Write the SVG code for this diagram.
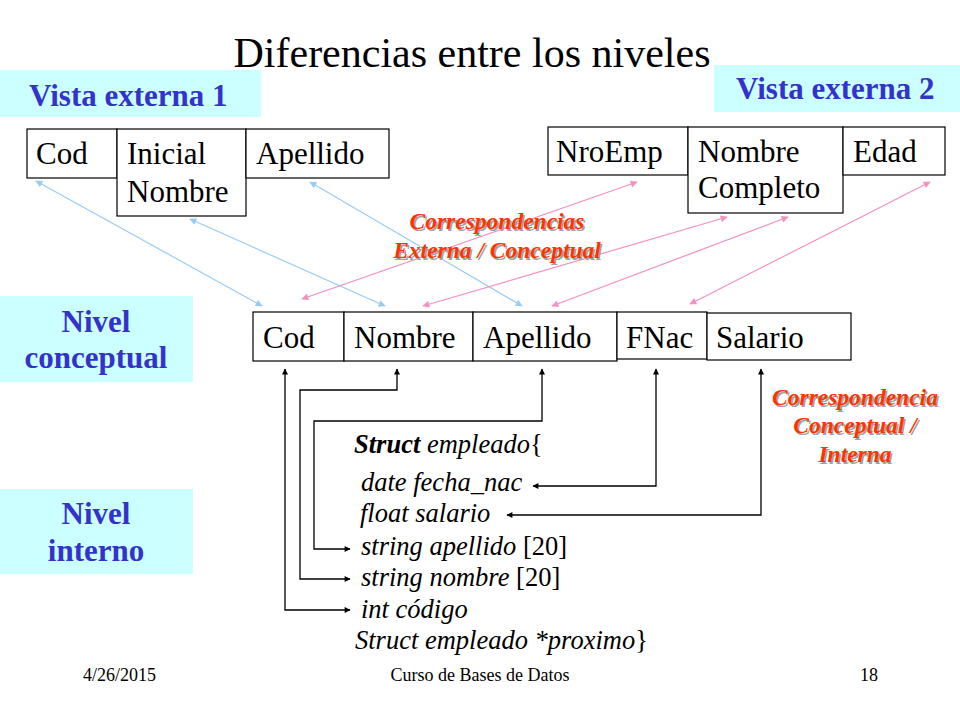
<svg xmlns="http://www.w3.org/2000/svg" width="960" height="720" viewBox="0 0 960 720">
<defs>
<marker id="ab" viewBox="0 0 10 10" refX="9" refY="5" markerWidth="9" markerHeight="7" markerUnits="userSpaceOnUse" orient="auto-start-reverse"><path d="M0,0 L10,5 L0,10 z" fill="#99ccf5"/></marker>
<marker id="ap" viewBox="0 0 10 10" refX="9" refY="5" markerWidth="9" markerHeight="7" markerUnits="userSpaceOnUse" orient="auto-start-reverse"><path d="M0,0 L10,5 L0,10 z" fill="#f590c0"/></marker>
<marker id="ak" viewBox="0 0 10 10" refX="9" refY="5" markerWidth="8" markerHeight="6" markerUnits="userSpaceOnUse" orient="auto-start-reverse"><path d="M0,0 L10,5 L0,10 z" fill="#000"/></marker>
</defs>
<style>
.t{font-family:"Liberation Serif","Times New Roman",serif;fill:#000}
.f{font-size:31px}
.lab{fill:#ccffff}
.bl{font-family:"Liberation Serif","Times New Roman",serif;font-weight:bold;font-size:31px;fill:#3333cc}
.box{fill:#fff;stroke:#000;stroke-width:1.2}
.red{font-family:"Liberation Serif","Times New Roman",serif;font-weight:bold;font-style:italic;font-size:23.5px;fill:#ff3300;text-anchor:middle}
.sh{fill:#a0a0a0}
.code{font-family:"Liberation Serif","Times New Roman",serif;font-style:italic;font-size:26.5px;fill:#000}
.lb{stroke:#99ccf5;stroke-width:1.2;fill:none}
.lp{stroke:#f590c0;stroke-width:1.2;fill:none}
.lk{stroke:#000;stroke-width:1.3;fill:none}
</style>
<rect width="960" height="720" fill="#fff"/>
<text class="t" x="472" y="67" font-size="42" text-anchor="middle">Diferencias entre los niveles</text>

<g id="vista1-label"><rect class="lab" x="0" y="70" width="261" height="47"/><text class="bl" x="29" y="106">Vista externa 1</text></g>
<g id="vista2-label"><rect class="lab" x="714" y="65" width="246" height="47"/><text class="bl" x="736" y="99">Vista externa 2</text></g>
<g id="nivel-conceptual-label"><rect class="lab" x="0" y="296" width="193" height="86"/><text class="bl" x="96" y="332" text-anchor="middle">Nivel</text><text class="bl" x="96" y="368" text-anchor="middle">conceptual</text></g>
<g id="nivel-interno-label"><rect class="lab" x="0" y="489" width="193" height="85"/><text class="bl" x="96" y="524" text-anchor="middle">Nivel</text><text class="bl" x="96" y="561" text-anchor="middle">interno</text></g>

<g id="v1-cod"><rect class="box" x="27" y="129" width="90" height="49"/><text class="t f" x="36" y="164">Cod</text></g>
<g id="v1-inicial-nombre"><rect class="box" x="117" y="129" width="129" height="87"/><text class="t f" x="127" y="164">Inicial</text><text class="t f" x="127" y="202">Nombre</text></g>
<g id="v1-apellido"><rect class="box" x="246" y="129" width="143" height="49"/><text class="t f" x="256" y="164">Apellido</text></g>

<g id="v2-nroemp"><rect class="box" x="548" y="127" width="140" height="48"/><text class="t f" x="556" y="162">NroEmp</text></g>
<g id="v2-nombre-completo"><rect class="box" x="688" y="127" width="155" height="86"/><text class="t f" x="698" y="162">Nombre</text><text class="t f" x="698" y="198">Completo</text></g>
<g id="v2-edad"><rect class="box" x="843" y="127" width="102" height="48"/><text class="t f" x="853" y="162">Edad</text></g>

<g id="c-cod"><rect class="box" x="253" y="312" width="91" height="49"/><text class="t f" x="263" y="348">Cod</text></g>
<g id="c-nombre"><rect class="box" x="344" y="312" width="129" height="49"/><text class="t f" x="354" y="348">Nombre</text></g>
<g id="c-apellido"><rect class="box" x="473" y="312" width="144" height="49"/><text class="t f" x="483" y="348">Apellido</text></g>
<g id="c-fnac"><rect class="box" x="617" y="312" width="90" height="47"/><text class="t f" x="626" y="348">FNac</text></g>
<g id="c-salario"><rect class="box" x="707" y="313" width="144" height="47"/><text class="t f" x="716" y="348">Salario</text></g>

<g id="connectors">
<line class="lb" x1="262" y1="306" x2="36" y2="181" marker-start="url(#ab)" marker-end="url(#ab)"/>
<line class="lb" x1="385" y1="306" x2="190" y2="219" marker-start="url(#ab)" marker-end="url(#ab)"/>
<line class="lb" x1="522" y1="306" x2="310" y2="182" marker-start="url(#ab)" marker-end="url(#ab)"/>
<line class="lp" x1="302" y1="299" x2="637" y2="182" marker-start="url(#ap)" marker-end="url(#ap)"/>
<line class="lp" x1="423" y1="306" x2="727" y2="217" marker-start="url(#ap)" marker-end="url(#ap)"/>
<line class="lp" x1="552" y1="306" x2="788" y2="217" marker-start="url(#ap)" marker-end="url(#ap)"/>
<line class="lp" x1="690" y1="304" x2="930" y2="182" marker-start="url(#ap)" marker-end="url(#ap)"/>
<path class="lk" d="M350,610 H285 V369" marker-start="url(#ak)" marker-end="url(#ak)"/>
<path class="lk" d="M350,579 H300 V390 H397 V369" marker-start="url(#ak)" marker-end="url(#ak)"/>
<path class="lk" d="M350,549 H314 V421 H542 V369" marker-start="url(#ak)" marker-end="url(#ak)"/>
<path class="lk" d="M533,486 H656 V369" marker-start="url(#ak)" marker-end="url(#ak)"/>
<path class="lk" d="M507,515 H761 V369" marker-start="url(#ak)" marker-end="url(#ak)"/>
</g>

<g id="label-ext-conc">
<text class="red sh" x="498.5" y="230.5">Correspondencias</text>
<text class="red sh" x="498.5" y="259.5">Externa / Conceptual</text>
<text class="red" x="497" y="229">Correspondencias</text>
<text class="red" x="497" y="258">Externa / Conceptual</text>
</g>
<g id="label-conc-int">
<text class="red sh" x="856.5" y="406.5">Correspondencia</text>
<text class="red sh" x="856.5" y="434.5">Conceptual /</text>
<text class="red sh" x="856.5" y="463.5">Interna</text>
<text class="red" x="855" y="405">Correspondencia</text>
<text class="red" x="855" y="433">Conceptual /</text>
<text class="red" x="855" y="462">Interna</text>
</g>

<g id="struct-code">
<text class="code" x="354" y="453"><tspan font-weight="bold">Struct</tspan> empleado<tspan font-style="normal">{</tspan></text>
<text class="code" x="361" y="491">date fecha_nac</text>
<text class="code" x="360" y="522">float salario</text>
<text class="code" x="361" y="555">string apellido <tspan font-style="normal">[20]</tspan></text>
<text class="code" x="361" y="586">string nombre <tspan font-style="normal">[20]</tspan></text>
<text class="code" x="361" y="618">int código</text>
<text class="code" x="355" y="649">Struct empleado *proximo<tspan font-style="normal">}</tspan></text>
</g>

<g id="footer">
<text class="t" x="83" y="681" font-size="18">4/26/2015</text>
<text class="t" x="480" y="681" font-size="18" text-anchor="middle">Curso de Bases de Datos</text>
<text class="t" x="860" y="681" font-size="18">18</text>
</g>
</svg>
